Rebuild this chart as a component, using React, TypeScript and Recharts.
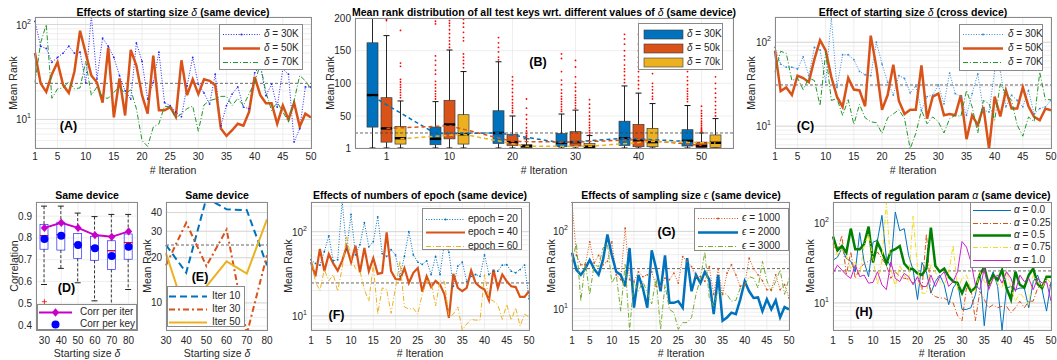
import React from 'react';
import {
  ComposedChart,
  LineChart,
  Line,
  Bar,
  Scatter,
  XAxis,
  YAxis,
  CartesianGrid,
  ReferenceLine,
} from 'recharts';

const FONT = '"Liberation Sans", Arial, Helvetica, sans-serif';
const INK = '#262626';
const GRID = '#e6e6e6';
const BLUE = '#0072BD';
const ORANGE = '#D95319';
const YELLOW = '#EDB120';
const DOTTED = '1 1.6';
const DASHDOT = '5 2 1 2';
const DASHED = '7 4';

// shared x values of the iteration panels
const iterations = [
  1, 2, 3, 4, 5, 6, 7, 8, 9, 10,
  11, 12, 13, 14, 15, 16, 17, 18, 19, 20,
  21, 22, 23, 24, 25, 26, 27, 28, 29, 30,
  31, 32, 33, 34, 35, 36, 37, 38, 39, 40,
  41, 42, 43, 44, 45, 46, 47, 48, 49, 50,
];
const iterTicks = [1, 5, 10, 15, 20, 25, 30, 35, 40, 45, 50];
const logTicks = [5, 6, 7, 8, 9, 10, 20, 30, 40, 50, 60, 70, 80, 90, 100, 200];

// (A) starting size, same device
const aDelta30 = [
  108, 59, 56, 40, 45, 50, 59, 50, 51, 24.5,
  125, 26.6, 72, 59, 45, 29, 20, 16.4, 64, 41,
  16.4, 24.5, 51, 15, 14, 12, 10.7, 22.6, 45, 23.5,
  19, 14.5, 30, 8.6, 14, 18.5, 22, 13.5, 13, 31,
  37, 17.8, 23.5, 13.5, 34, 30, 5.8, 8, 22, 22,
];
const aDelta50 = [
  50, 24, 19.5, 30, 40, 23, 19, 32, 86, 50,
  29, 24.5, 15, 57, 10.5, 27, 11, 54, 37, 18,
  11.5, 47, 12.5, 12.5, 13.5, 10.7, 42, 18, 26.5, 18.5,
  26.5, 25.5, 23, 8, 6.7, 7.7, 9, 8.6, 12, 28,
  18, 14.8, 14.8, 9, 14, 10, 15, 8.4, 11.5, 10.5,
];
const aDelta70 = [
  24.5, 64, 100, 16.7, 21, 21.5, 25, 21, 21.5, 41,
  18, 22, 17, 16.7, 19.3, 22, 18.6, 20.5, 13, 6,
  5.2, 8.3, 9, 13.8, 13.5, 10.3, 11.5, 13, 13.8, 7.5,
  14.2, 15.8, 16.4, 17.5, 17.5, 14, 16.7, 14, 18.6, 24.5,
  38, 19.3, 12.4, 15.2, 12, 9.4, 15.8, 29, 25.5, 21,
];
const aBaseline = 24;

// (B) box plots: [low whisker, q1, median, q3, high whisker]
const bIterations = ['1', '10', '20', '30', '40', '50'];
const bBox30 = [
  [1, 33, 82, 162, 210], [1, 6, 15, 33, 72], [1, 8, 24, 58, 133],
  [1, 3, 9, 23, 53], [1, 5, 16, 42, 96], [1, 4, 12, 29, 66],
];
const bBox50 = [
  [1, 10, 31, 78, 173], [1, 15, 37, 74, 151], [1, 5, 10, 22, 50],
  [1, 4, 10, 26, 59], [1, 3, 13, 37, 85], [1, 2, 4, 10, 24],
];
const bBox70 = [
  [1, 7, 16, 34, 73], [1, 7, 22, 52, 118], [1, 1.5, 4, 6, 15],
  [1, 1.5, 3, 8, 20], [1, 3, 10, 31, 69], [1, 2, 9, 21, 46],
];
const bOut30 = [
  [],
  [195, 191, 142, 135, 128, 120, 114, 103, 98, 93, 88, 84, 80, 76],
  [170, 162, 155, 148, 140, 136],
  [145, 138, 118, 105, 98, 90, 85, 80, 76, 72, 68, 64, 60, 57],
  [175, 168, 160, 150, 142, 136, 128, 122, 118, 112, 106, 101],
  [125, 118, 110, 104, 98, 92, 88, 84, 80, 76, 72],
];
const bOut50 = [
  [200, 198, 196],
  [196, 192, 188, 182, 176, 170, 165, 160, 155],
  [110, 104, 98, 92, 86, 80, 75, 70, 66, 62, 58, 55],
  [135, 125, 110, 100, 94, 88, 82, 78, 74, 70, 66, 62],
  [175, 160, 150, 140, 132, 125, 118, 110, 104, 98, 92],
  [65, 58, 54, 50, 46, 42, 39, 36, 33, 31, 29, 27, 26],
];
const bOut70 = [
  [181, 131, 126, 106, 102, 98, 94, 90, 86, 82, 78],
  [198, 192, 186, 178, 170, 165, 145, 140, 135, 130, 124],
  [76, 62, 52, 45, 38, 32, 27, 23, 20, 18],
  [75, 68, 62, 56, 50, 45, 40, 36, 32, 28, 25, 22],
  [115, 100, 95, 90, 85, 80, 76],
  [110, 100, 92, 85, 78, 72, 66, 60, 55, 50],
];
const bTrend30 = [80, 23, 24, 9, 16, 11];
const bTrend50 = [31, 35, 11, 10, 14, 5];
const bTrend70 = [15, 22, 3.5, 3.5, 11, 8.6];
const bBaseline = 24;

// (C) starting size, cross device
const cDelta30 = [
  87, 55, 50.5, 50.5, 48, 67, 40, 87, 81, 33.5,
  198, 29, 71, 71, 62, 45, 41, 40, 100, 55,
  33.5, 23.5, 40, 37, 25, 30, 15.5, 22.5, 23.5, 31,
  18.5, 43, 24.5, 22.5, 13.5, 24.5, 42, 15.5, 14.8, 46,
  46, 17, 23.5, 20.3, 17, 26.7, 14, 16.2, 17, 20.3,
];
const cDelta50 = [
  79.5, 26.2, 29, 23.5, 40, 37.5, 33.5, 63, 106, 80,
  38.5, 22.5, 17, 37.5, 27.3, 26.7, 17.3, 120, 50.5, 15.7,
  23.5, 54, 20, 14, 15.7, 15.7, 53, 12.3, 22.5, 24.5,
  13.5, 14, 13.5, 23.5, 7, 13.5, 10.3, 17, 5.4, 22.5,
  13.1, 26.7, 16.2, 16.2, 29, 17.3, 12.9, 11.8, 16.2, 15.5,
];
const cDelta70 = [
  44, 78, 74, 35, 37.5, 27.3, 37.5, 35, 17.6, 76,
  20.3, 21.3, 13.5, 20.7, 10.5, 18.2, 12.6, 11.3, 11, 8.2,
  12.6, 14, 15.7, 12.3, 5.4, 8.2, 15.5, 10.7, 12.9, 11.3,
  8.3, 12.3, 13.5, 13.1, 26.7, 17, 8.3, 20.3, 18.5, 11.8,
  32, 24.5, 20.3, 10.3, 7.6, 12.9, 11.3, 44, 20.7, 20.7,
];
const cBaseline = 31;

// (D) correlation per starting size: [low whisker, q1, median, q3, high whisker]
const dSizes = ['30', '40', '50', '60', '70', '80'];
const dBox = [
  [0.586, 0.748, 0.81, 0.861, 0.946],
  [0.66, 0.744, 0.815, 0.872, 0.946],
  [0.594, 0.706, 0.771, 0.821, 0.914],
  [0.511, 0.697, 0.759, 0.806, 0.898],
  [0.45, 0.655, 0.741, 0.787, 0.908],
  [0.563, 0.702, 0.779, 0.818, 0.908],
];
const dCorrIter = [0.846, 0.87, 0.846, 0.813, 0.805, 0.83];
const dCorrKey = [0.795, 0.81, 0.767, 0.753, 0.717, 0.759];
const dOutlier = [0.507, null, null, null, null, null];

// (E) mean rank per starting size
const eSizes = [30, 40, 50, 60, 70, 80];
const eIter10 = [24.3, 15.9, 50, 42, 41.5, 17.8];
const eIter30 = [17.8, 34.2, 17.6, 30.8, 6.2, 20.8];
const eIter50 = [21.4, 8.3, 12.9, 18.9, 15.7, 36];
const eBaseline = 24.3;

// (F) epochs
const fEpoch20 = [
  46.5, 42, 40, 58, 89, 45, 46.5, 230, 61, 160,
  53, 70, 128, 66, 76, 150, 55, 51, 61, 53,
  29.5, 51, 100, 53, 43.5, 41, 45, 31, 51, 31,
  76, 57, 22.5, 39, 43.5, 25.7, 29.5, 31, 29.5, 53,
  31, 34, 34, 40, 40.5, 34, 32.5, 35.5, 40, 16,
];
const fEpoch40 = [
  43.5, 29.5, 62.5, 34, 54, 42, 34.5, 45, 66, 43.5,
  68, 33, 64, 34, 48.5, 31.5, 32.5, 98, 34, 27.5,
  27, 37, 24.6, 32.5, 37, 19.4, 29.5, 22, 26, 23.5,
  18, 9.5, 31.5, 21.5, 19.7, 21.5, 34.5, 24.6, 22, 20.6,
  15.3, 35.5, 21.5, 31, 25.7, 22.5, 22, 16.8, 16.8, 19.7,
];
const fEpoch60 = [
  53, 25.3, 20, 35.5, 26, 31, 19.7, 37, 87, 48.5,
  36.5, 34, 20.6, 15, 40.5, 10.5, 21.5, 20.6, 10.7, 21.5,
  44.5, 12.8, 12, 12.3, 10.5, 18, 26, 25.3, 13.1, 26,
  25.7, 9.7, 10.5, 12.8, 6.8, 8, 9.1, 8.9, 8.9, 31,
  16, 15, 13.5, 9.1, 13.7, 8.9, 12.5, 7.6, 10.5, 9.7,
];
const fBaseline = 24.6;

// (G) sampling size
const gEps1000 = [
  240, 49, 37, 37, 73, 39, 49, 37, 41, 73,
  27.4, 23.7, 110, 23.7, 22.6, 30, 26, 27.4, 30, 19.5,
  19.5, 24.8, 23.7, 28.8, 21.5, 47, 41, 35, 26, 26,
  22.6, 35, 15.3, 33, 15.3, 28.8, 37, 27.4, 19.5, 20.4,
  45, 33, 27.4, 23, 17.6, 17.6, 27.4, 17.6, 20.4, 13.8,
];
const gEps2000 = [
  53, 31.8, 27.4, 33, 42.7, 32.7, 27.4, 42.7, 91, 49,
  30, 27.4, 19.5, 61, 10.3, 27.4, 18.5, 10.3, 57, 33,
  16.8, 49, 11.9, 11.9, 12.5, 10.3, 45, 16.8, 27.4, 21.5,
  30, 23.7, 8.5, 27.4, 7, 7.7, 8.9, 8.5, 13.2, 22.6,
  16.8, 13.8, 14, 9.3, 13.2, 9.8, 12.8, 7.7, 10.5, 9.8,
];
const gEps3000 = [
  41, 70, 12.5, 40, 15.3, 37, 35, 61, 70, 21.5,
  27.4, 9.3, 37.5, 5.3, 22.6, 16.8, 22.6, 16, 11.5, 24.8,
  5.4, 20.4, 9.8, 8.9, 5.4, 6.6, 6.6, 7.7, 15.3, 24.8,
  54, 13.8, 10.8, 16.8, 16, 15.3, 12.5, 12.8, 18.5, 20.4,
  26, 24.8, 18.5, 41, 23, 16.8, 22.6, 31.8, 15.3, 24.8,
];
const gBaseline = 33;

// (H) regulation param
const hAlpha00 = [
  34, 37, 48, 35.6, 33, 24.4, 75, 32.4, 21.2, 57,
  60, 123, 35.6, 28, 135, 79, 84, 39, 25.6, 11,
  31.8, 24.4, 13.2, 18.4, 22.2, 16.8, 9.5, 15.3, 18.4, 8.3,
  8.3, 8.7, 12.6, 24.4, 5.2, 17.6, 24.4, 16, 4.6, 15.3,
  16, 14.6, 15.3, 15.3, 8.7, 18.4, 22.2, 14.6, 7.9, 18.4,
];
const hAlpha025 = [
  54, 43, 69, 22.2, 43, 20.2, 26.8, 30.9, 33, 35.6,
  43, 35.6, 29.5, 20.2, 24.4, 21.2, 20.2, 19.8, 17.6, 20.2,
  14.6, 72, 13.2, 12, 11.5, 11.5, 10.5, 10, 6.9, 6,
  15.3, 15.3, 6, 13.9, 11, 8.7, 9.5, 8.7, 9.1, 9.1,
  7.5, 8.7, 10.5, 8.7, 10.5, 10.5, 15.3, 16.8, 17.6, 16,
];
const hAlpha05 = [
  67, 45, 51, 42, 84, 46.5, 46.5, 54, 89, 31.8,
  57, 43, 30.9, 44, 46.5, 51, 30.9, 26.8, 26.3, 23.3,
  22.2, 26.8, 86.6, 28.9, 24.4, 26.8, 21.2, 18.5, 17.6, 13.2,
  17.6, 13.9, 15.5, 22.2, 28.1, 16.8, 22.2, 19.3, 25.6, 15.3,
  11, 24.4, 16.8, 15.5, 22.2, 26.8, 17.1, 15.3, 21.2, 21.2,
];
const hAlpha075 = [
  57, 39, 47, 39, 26.8, 32.4, 22.2, 52, 72, 35.6,
  16.8, 34, 179, 26.8, 16, 29.5, 22.2, 18.4, 120, 26.8,
  13.2, 13.2, 29.5, 24.4, 18.4, 16.8, 23.3, 52, 14.6, 20.2,
  22.2, 14.6, 13.9, 24.4, 18.4, 16.8, 20.2, 17.6, 15.3, 25.6,
  15.3, 10.5, 13.2, 11.5, 9.5, 22.2, 18.4, 15.3, 20.2, 17.6,
];
const hAlpha10 = [
  23.3, 29.5, 25.6, 22.2, 20.2, 29.5, 21.2, 22.2, 17.6, 18,
  24.4, 16.8, 14.6, 32.4, 20.2, 18.4, 23.3, 21.2, 16.8, 21.2,
  16, 16, 22.2, 16, 21.2, 24.4, 16, 18.4, 24.4, 58,
  49.4, 32.4, 16.8, 14.6, 26.8, 14.6, 20.2, 22.2, 17.6, 24.4,
  20.2, 13.9, 22.2, 18.4, 20.2, 14.6, 20.2, 17.6, 18.4, 10.5,
];
const hBaseline = 25;

type Box = { x: number; y: number; w: number; h: number };
type Series = { values: number[]; color: string; width: number; dash?: string; dots?: boolean };

const YW = 34;
const TOP = 7;
const RIGHT = 10;
const XH = 20;

const boxA: Box = { x: 35, y: 17, w: 276, h: 131 };
const boxB: Box = { x: 355, y: 18, w: 378, h: 130 };
const boxC: Box = { x: 775, y: 17, w: 276, h: 131 };
const boxD: Box = { x: 36, y: 202, w: 101, h: 128 };
const boxE: Box = { x: 166, y: 202, w: 101, h: 128 };
const boxF: Box = { x: 311, y: 202, w: 218, h: 128 };
const boxG: Box = { x: 572, y: 202, w: 217, h: 128 };
const boxH: Box = { x: 833, y: 202, w: 218, h: 128 };

const frame = (b: Box): React.CSSProperties => ({ position: 'absolute', left: b.x - YW, top: b.y - TOP });
const cw = (b: Box) => b.w + YW + RIGHT;
const ch = (b: Box) => b.h + TOP + XH;
const margin = { top: TOP, right: RIGHT, bottom: 0, left: 0 };
const tickStyle = { fontSize: 10, fill: INK, fontFamily: FONT };

function logTick(majors: number[]) {
  return (props: any) => {
    const { x, y, payload } = props;
    if (!majors.includes(payload.value)) return <g />;
    const exp = Math.round(Math.log10(payload.value));
    return (
      <text x={x} y={y} dy={4} textAnchor="end" fontSize={10} fill={INK} fontFamily={FONT}>
        10<tspan dy={-5} fontSize={7}>{exp}</tspan>
      </text>
    );
  };
}

function IterPanel({ box, domain, series, baseline, tickSize }: {
  box: Box; domain: [number, number]; series: Series[]; baseline: number; tickSize: number;
}) {
  const rows = iterations.map((it, i) => {
    const row: Record<string, number> = { it };
    series.forEach((s, k) => { row['s' + k] = s.values[i]; });
    return row;
  });
  const ticks = logTicks.filter((t) => t >= domain[0] && t <= domain[1]);
  const majors = [10, 100].filter((t) => t >= domain[0] && t <= domain[1]);
  return (
    <div style={frame(box)}>
      <LineChart width={cw(box)} height={ch(box)} data={rows} margin={margin}>
        <CartesianGrid stroke={GRID} strokeWidth={0.7} />
        <XAxis dataKey="it" type="number" domain={[1, 50]} ticks={iterTicks} interval={0}
          axisLine={false} tickLine={false} tickSize={tickSize} height={XH} tick={tickStyle} />
        <YAxis type="number" scale="log" domain={domain} allowDataOverflow ticks={ticks} interval={0}
          axisLine={false} tickLine={false} tickSize={2} width={YW} tick={logTick(majors)} />
        {majors.map((m) => <ReferenceLine key={m} y={m} stroke="#d2d2d2" strokeWidth={0.8} />)}
        <ReferenceLine y={baseline} stroke="#404040" strokeDasharray="3 2" strokeWidth={0.8} />
        {series.map((s, k) => (
          <Line key={k} type="linear" dataKey={'s' + k} stroke={s.color} strokeWidth={s.width}
            strokeDasharray={s.dash} isAnimationActive={false}
            dot={s.dots ? { r: 0.9, fill: s.color, stroke: 'none' } : false} />
        ))}
      </LineChart>
    </div>
  );
}

const whisker = (stroke: string, dash: string | undefined, cap: 'top' | 'bottom', capW: number) => (p: any) => {
  const cx = p.x + p.width / 2;
  const cy = cap === 'top' ? p.y : p.y + p.height;
  return (
    <g>
      <line x1={cx} x2={cx} y1={p.y} y2={p.y + p.height} stroke={stroke} strokeWidth={0.9} strokeDasharray={dash} />
      <line x1={cx - capW / 2} x2={cx + capW / 2} y1={cy} y2={cy} stroke={stroke} strokeWidth={1} />
    </g>
  );
};
const boxPart = (fill: string, stroke: string, median?: { color: string; width: number }) => (p: any) => (
  <g>
    <rect x={p.x} y={p.y} width={p.width} height={Math.max(p.height, 0)} fill={fill} stroke={stroke} strokeWidth={0.7} />
    {median && (
      <line x1={p.x} x2={p.x + p.width} y1={p.y + p.height} y2={p.y + p.height} stroke={median.color} strokeWidth={median.width} />
    )}
  </g>
);
const hidden = () => <g />;

function PanelB() {
  const boxes = [bBox30, bBox50, bBox70];
  const rows = bIterations.map((it, i) => {
    const row: Record<string, string | number> = { it };
    boxes.forEach((set, g) => {
      const [lo, q1, med, q3, hi] = set[i];
      row[`g${g}_0`] = lo;
      row[`g${g}_1`] = q1 - lo;
      row[`g${g}_2`] = med - q1;
      row[`g${g}_3`] = q3 - med;
      row[`g${g}_4`] = hi - q3;
    });
    return row;
  });
  const off = 14 / (boxB.w / 6);
  const groups = [
    { fill: BLUE, out: bOut30, trend: bTrend30, shift: -off },
    { fill: ORANGE, out: bOut50, trend: bTrend50, shift: 0 },
    { fill: YELLOW, out: bOut70, trend: bTrend70, shift: off },
  ];
  const shapes = (fill: string) => [
    hidden,
    whisker('#111', undefined, 'bottom', 6),
    boxPart(fill, '#3a3a3a'),
    boxPart(fill, '#3a3a3a', { color: '#000', width: 2.4 }),
    whisker('#111', undefined, 'top', 6),
  ];
  return (
    <div style={frame(boxB)}>
      <ComposedChart width={cw(boxB)} height={ch(boxB)} data={rows} margin={margin} barSize={11} barGap={3}>
        <CartesianGrid stroke={GRID} strokeWidth={0.7} />
        <XAxis dataKey="it" type="category" interval={0} axisLine={false} tickLine={false}
          tickSize={3} height={XH} tick={tickStyle} />
        <XAxis xAxisId="n" dataKey="x" type="number" domain={[0, 6]} allowDataOverflow hide />
        <YAxis type="number" domain={[1, 200]} ticks={[1, 50, 100, 150, 200]} allowDataOverflow interval={0}
          axisLine={false} tickLine={false} tickSize={2} width={YW} tick={tickStyle} />
        <ReferenceLine y={bBaseline} stroke="#404040" strokeDasharray="3 2" strokeWidth={0.8} />
        {groups.map((g, gi) =>
          shapes(g.fill).map((shape, k) => (
            <Bar key={`b${gi}${k}`} dataKey={`g${gi}_${k}`} stackId={'g' + gi} shape={shape} isAnimationActive={false} />
          )),
        )}
        {groups.map((g, gi) => (
          <Line key={`t${gi}`} xAxisId="n" type="linear"
            data={g.trend.map((v, i) => ({ x: i + 0.5 + g.shift, y: v }))}
            dataKey="y" stroke={g.fill} strokeWidth={1.5} strokeDasharray="4 3" dot={false} isAnimationActive={false} />
        ))}
        {groups.map((g, gi) => (
          <Scatter key={`o${gi}`} xAxisId="n"
            data={g.out.flatMap((vals, i) => vals.map((v) => ({ x: i + 0.5 + g.shift, y: v })))}
            dataKey="y" fill="#ff0000" isAnimationActive={false}
            shape={(p: any) => <circle cx={p.cx} cy={p.cy} r={0.9} fill="#ff0000" />} />
        ))}
      </ComposedChart>
    </div>
  );
}

function PanelD() {
  const rows = dSizes.map((s, i) => {
    const [lo, q1, med, q3, hi] = dBox[i];
    return {
      s, d0: lo, d1: q1 - lo, d2: med - q1, d3: q3 - med, d4: hi - q3,
      iter: dCorrIter[i], perKey: dCorrKey[i], out: dOutlier[i],
    };
  });
  const diamond = (p: any) => (
    <path key={p.key} d={`M${p.cx},${p.cy - 4.2}L${p.cx + 3.6},${p.cy}L${p.cx},${p.cy + 4.2}L${p.cx - 3.6},${p.cy}Z`} fill="#C800C8" />
  );
  const circle = (p: any) => <circle key={p.key} cx={p.cx} cy={p.cy} r={4} fill="#0000FF" />;
  const plus = (p: any) =>
    p.payload.out == null ? <g key={p.key} /> : (
      <g key={p.key} stroke="#ff0000" strokeWidth={0.8}>
        <line x1={p.cx - 2.5} x2={p.cx + 2.5} y1={p.cy} y2={p.cy} />
        <line x1={p.cx} x2={p.cx} y1={p.cy - 2.5} y2={p.cy + 2.5} />
      </g>
    );
  return (
    <div style={frame(boxD)}>
      <ComposedChart width={cw(boxD)} height={ch(boxD)} data={rows} margin={margin} barSize={8}>
        <CartesianGrid stroke={GRID} strokeWidth={0.7} />
        <XAxis dataKey="s" type="category" interval={0} axisLine={false} tickLine={false}
          tickSize={5} height={XH} tick={tickStyle} />
        <YAxis type="number" domain={[0.377, 0.965]} ticks={[0.4, 0.5, 0.6, 0.7, 0.8, 0.9]} allowDataOverflow
          interval={0} axisLine={false} tickLine={false} tickSize={2} width={YW} tick={tickStyle}
          tickFormatter={(v: number) => v.toFixed(1)} />
        <Bar dataKey="d0" stackId="d" shape={hidden} isAnimationActive={false} />
        <Bar dataKey="d1" stackId="d" shape={whisker('#222', '3 2', 'bottom', 6)} isAnimationActive={false} />
        <Bar dataKey="d2" stackId="d" shape={boxPart('none', '#2a2aff')} isAnimationActive={false} />
        <Bar dataKey="d3" stackId="d" shape={boxPart('none', '#2a2aff', { color: '#ff0000', width: 1 })} isAnimationActive={false} />
        <Bar dataKey="d4" stackId="d" shape={whisker('#222', '3 2', 'top', 6)} isAnimationActive={false} />
        <Line dataKey="out" stroke="none" dot={plus} isAnimationActive={false} />
        <Line dataKey="iter" stroke="#C800C8" strokeWidth={2} dot={diamond} isAnimationActive={false} />
        <Line dataKey="perKey" stroke="none" dot={circle} isAnimationActive={false} />
      </ComposedChart>
    </div>
  );
}

function PanelE() {
  const rows = eSizes.map((s, i) => ({ s, i10: eIter10[i], i30: eIter30[i], i50: eIter50[i] }));
  const eTick = (props: any) => {
    const { x, y, payload } = props;
    if (payload.value < 10) return <g />;
    return <text x={x} y={y} dy={3.5} textAnchor="end" {...tickStyle}>{payload.value}</text>;
  };
  return (
    <div style={frame(boxE)}>
      <LineChart width={cw(boxE)} height={ch(boxE)} data={rows} margin={margin}>
        <CartesianGrid stroke={GRID} strokeWidth={0.7} />
        <XAxis dataKey="s" type="number" domain={[30, 80]} ticks={eSizes} interval={0}
          axisLine={false} tickLine={false} tickSize={5} height={XH} tick={tickStyle} />
        <YAxis type="number" scale="log" domain={[6.6, 47]} ticks={[7, 8, 9, 10, 20, 30, 40]} allowDataOverflow
          interval={0} axisLine={false} tickLine={false} tickSize={2} width={YW} tick={eTick} />
        {[10, 20, 30, 40].map((m) => <ReferenceLine key={m} y={m} stroke="#d2d2d2" strokeWidth={0.8} />)}
        <ReferenceLine y={eBaseline} stroke="#404040" strokeDasharray="3 2" strokeWidth={0.8} />
        <Line dataKey="i10" stroke={BLUE} strokeWidth={2} strokeDasharray={DASHED} dot={false} isAnimationActive={false} />
        <Line dataKey="i30" stroke={ORANGE} strokeWidth={2} strokeDasharray="6 3 2 3" dot={false} isAnimationActive={false} />
        <Line dataKey="i50" stroke={YELLOW} strokeWidth={2} dot={false} isAnimationActive={false} />
      </LineChart>
    </div>
  );
}

type LegItem = { label: React.ReactNode; color: string; width: number; dash?: string; marker?: 'dot' | 'diamond' | 'circle' | 'patch'; noLine?: boolean };

function LegendBox({ box, items, rows, sx0, sx1, tx }: { box: Box; items: LegItem[]; rows: number[]; sx0: number; sx1: number; tx: number }) {
  return (
    <div style={{ position: 'absolute', left: box.x, top: box.y, width: box.w, height: box.h, background: '#fff', border: '1px solid #8a8a8a', boxSizing: 'border-box' }}>
      <svg width={box.w} height={box.h} style={{ position: 'absolute', left: -1, top: -1 }}>
        {items.map((it, i) => {
          const y = Math.round(rows[i] - box.y) + 0.5;
          const x0 = sx0 - box.x;
          const x1 = sx1 - box.x;
          const xm = (x0 + x1) / 2;
          if (it.marker === 'patch') {
            return <rect key={i} x={x0} y={y - 4.5} width={x1 - x0} height={9} fill={it.color} stroke="#3a3a3a" strokeWidth={0.6} />;
          }
          return (
            <g key={i}>
              {!it.noLine && <line x1={x0} x2={x1} y1={y} y2={y} stroke={it.color} strokeWidth={Math.max(it.width, 1.2)} strokeDasharray={it.dash} />}
              {it.marker === 'dot' && <circle cx={xm} cy={y} r={1.1} fill={it.color} />}
              {it.marker === 'circle' && <circle cx={xm} cy={y} r={4} fill={it.color} />}
              {it.marker === 'diamond' && <path d={`M${xm},${y - 4.2}L${xm + 3.6},${y}L${xm},${y + 4.2}L${xm - 3.6},${y}Z`} fill={it.color} />}
            </g>
          );
        })}
      </svg>
      {items.map((it, i) => (
        <div key={i} style={{ position: 'absolute', left: tx - box.x - 1, top: rows[i] - box.y - 1, transform: 'translateY(-50%)', fontSize: 10, lineHeight: 1, color: INK, whiteSpace: 'nowrap' }}>
          {it.label}
        </div>
      ))}
    </div>
  );
}

function Txt({ x, y, children, size = 10.5, bold = false, rotate = false }: { x: number; y: number; children: React.ReactNode; size?: number; bold?: boolean; rotate?: boolean }) {
  return (
    <div style={{
      position: 'absolute', left: x, top: y, fontSize: size, fontWeight: bold ? 'bold' : 'normal', color: bold ? '#000' : INK,
      lineHeight: 1, whiteSpace: 'nowrap', transform: `translate(-50%, -50%)${rotate ? ' rotate(-90deg)' : ''}`,
    }}>
      {children}
    </div>
  );
}

const Border = ({ b }: { b: Box }) => (
  <div style={{ position: 'absolute', left: b.x, top: b.y, width: b.w + 1, height: b.h + 1, border: '1px solid #8a8a8a', boxSizing: 'border-box', pointerEvents: 'none' }} />
);

const G = (s: string) => <i style={{ fontWeight: 'normal' }}>{s}</i>;

export default function App() {
  const A_BLUE = '#2424ff';
  const A_GREEN = '#22962a';
  const C_BLUE = '#3b8ed8';
  return (
    <div style={{ position: 'absolute', left: 0, top: 0, width: 1057, height: 360, background: '#fff', overflow: 'hidden', fontFamily: FONT }}>
      <IterPanel box={boxA} domain={[5, 120]} baseline={aBaseline} tickSize={3} series={[
        { values: aDelta30, color: A_BLUE, width: 1, dash: DOTTED, dots: true },
        { values: aDelta50, color: ORANGE, width: 2.5 },
        { values: aDelta70, color: A_GREEN, width: 1, dash: DASHDOT },
      ]} />
      <PanelB />
      <IterPanel box={boxC} domain={[5.5, 200]} baseline={cBaseline} tickSize={3} series={[
        { values: cDelta30, color: C_BLUE, width: 1, dash: DOTTED, dots: true },
        { values: cDelta50, color: ORANGE, width: 2.5 },
        { values: cDelta70, color: A_GREEN, width: 1, dash: DASHDOT },
      ]} />
      <PanelD />
      <PanelE />
      <IterPanel box={boxF} domain={[6.8, 225]} baseline={fBaseline} tickSize={5} series={[
        { values: fEpoch20, color: BLUE, width: 1, dash: DOTTED, dots: true },
        { values: fEpoch40, color: ORANGE, width: 2.2 },
        { values: fEpoch60, color: YELLOW, width: 1, dash: DASHDOT },
      ]} />
      <IterPanel box={boxG} domain={[5.3, 240]} baseline={gBaseline} tickSize={5} series={[
        { values: gEps1000, color: ORANGE, width: 1, dash: DOTTED, dots: true },
        { values: gEps2000, color: BLUE, width: 2.5 },
        { values: gEps3000, color: '#77AC30', width: 1, dash: DASHDOT },
      ]} />
      <IterPanel box={boxH} domain={[4.6, 180]} baseline={hBaseline} tickSize={5} series={[
        { values: hAlpha00, color: BLUE, width: 1 },
        { values: hAlpha025, color: ORANGE, width: 1, dash: DASHDOT },
        { values: hAlpha05, color: '#008000', width: 2.5 },
        { values: hAlpha075, color: '#F0DC1E', width: 1, dash: DASHDOT },
        { values: hAlpha10, color: '#CC22CC', width: 1 },
      ]} />

      {[boxA, boxB, boxC, boxD, boxE, boxF, boxG, boxH].map((b, i) => <Border key={i} b={b} />)}

      <Txt x={173} y={12} bold>Effects of starting size {G('δ')} (same device)</Txt>
      <Txt x={544} y={12} bold>Mean rank distribution of all test keys wrt. different values of {G('δ')} (same device)</Txt>
      <Txt x={913} y={12} bold>Effect of starting size {G('δ')} (cross device)</Txt>
      <Txt x={87} y={195} bold>Same device</Txt>
      <Txt x={217} y={195} bold>Same device</Txt>
      <Txt x={420} y={195} bold>Effects of numbers of epoch (same device)</Txt>
      <Txt x={681} y={195} bold>Effects of sampling size {G('ϵ')} (same device)</Txt>
      <Txt x={942} y={195} bold>Effects of regulation param {G('α')} (same device)</Txt>

      <Txt x={173} y={170}># Iteration</Txt>
      <Txt x={544} y={170}># Iteration</Txt>
      <Txt x={913} y={170}># Iteration</Txt>
      <Txt x={87} y={353}>Starting size <i>δ</i></Txt>
      <Txt x={217} y={353}>Starting size <i>δ</i></Txt>
      <Txt x={420} y={353}># Iteration</Txt>
      <Txt x={681} y={353}># Iteration</Txt>
      <Txt x={942} y={353}># Iteration</Txt>

      <Txt x={13} y={83} rotate>Mean Rank</Txt>
      <Txt x={330} y={83} rotate>Mean Rank</Txt>
      <Txt x={751} y={83} rotate>Mean Rank</Txt>
      <Txt x={14} y={266} rotate>Correlation</Txt>
      <Txt x={147} y={266} rotate>Mean Rank</Txt>
      <Txt x={288} y={266} rotate>Mean Rank</Txt>
      <Txt x={551} y={266} rotate>Mean Rank</Txt>
      <Txt x={810} y={266} rotate>Mean Rank</Txt>

      <Txt x={68.5} y={126} size={12.5} bold>(A)</Txt>
      <Txt x={538} y={62} size={12.5} bold>(B)</Txt>
      <Txt x={805.5} y={126} size={12.5} bold>(C)</Txt>
      <Txt x={66.5} y={288} size={12.5} bold>(D)</Txt>
      <Txt x={200} y={277} size={12.5} bold>(E)</Txt>
      <Txt x={336.5} y={315} size={12.5} bold>(F)</Txt>
      <Txt x={666.5} y={232} size={12.5} bold>(G)</Txt>
      <Txt x={864} y={312} size={12.5} bold>(H)</Txt>

      <LegendBox box={{ x: 219, y: 24, w: 84, h: 46 }} rows={[33.5, 48, 62]} sx0={223} sx1={260} tx={264} items={[
        { label: <>{G('δ')} = 30K</>, color: A_BLUE, width: 1, dash: DOTTED, marker: 'dot' },
        { label: <>{G('δ')} = 50K</>, color: ORANGE, width: 2.5 },
        { label: <>{G('δ')} = 70K</>, color: A_GREEN, width: 1, dash: DASHDOT },
      ]} />
      <LegendBox box={{ x: 638, y: 23, w: 85, h: 47 }} rows={[33.5, 48, 62]} sx0={644} sx1={683} tx={687} items={[
        { label: <>{G('δ')} = 30K</>, color: BLUE, width: 1, marker: 'patch' },
        { label: <>{G('δ')} = 50k</>, color: ORANGE, width: 1, marker: 'patch' },
        { label: <>{G('δ')} = 70k</>, color: YELLOW, width: 1, marker: 'patch' },
      ]} />
      <LegendBox box={{ x: 959, y: 24, w: 84, h: 47 }} rows={[33.5, 48, 62]} sx0={963} sx1={1003} tx={1008} items={[
        { label: <>{G('δ')} = 30K</>, color: C_BLUE, width: 1, dash: DOTTED, marker: 'dot' },
        { label: <>{G('δ')} = 50K</>, color: ORANGE, width: 2.5 },
        { label: <>{G('δ')} = 70K</>, color: A_GREEN, width: 1, dash: DASHDOT },
      ]} />
      <LegendBox box={{ x: 37, y: 304, w: 100, h: 26 }} rows={[311.5, 324]} sx0={39} sx1={72} tx={80} items={[
        { label: 'Corr per iter', color: '#C800C8', width: 2, marker: 'diamond' },
        { label: 'Corr per key', color: '#0000FF', width: 1, marker: 'circle', noLine: true },
      ]} />
      <LegendBox box={{ x: 167, y: 286, w: 78, h: 41 }} rows={[296, 309, 321.5]} sx0={169} sx1={207} tx={212} items={[
        { label: 'Iter 10', color: BLUE, width: 2, dash: DASHED },
        { label: 'Iter 30', color: ORANGE, width: 2, dash: '6 3 2 3' },
        { label: 'Iter 50', color: YELLOW, width: 2 },
      ]} />
      <LegendBox box={{ x: 422, y: 208, w: 100, h: 42 }} rows={[218.5, 231.5, 245.5]} sx0={426} sx1={465} tx={468} items={[
        { label: 'epoch = 20', color: BLUE, width: 1, dash: DOTTED, marker: 'dot' },
        { label: 'epoch = 40', color: ORANGE, width: 2.2 },
        { label: 'epoch = 60', color: YELLOW, width: 1.2, dash: DASHDOT },
      ]} />
      <LegendBox box={{ x: 694, y: 208, w: 95, h: 43 }} rows={[218, 232, 245.5]} sx0={698} sx1={738} tx={742} items={[
        { label: <>{G('ϵ')} = 1000</>, color: ORANGE, width: 1, dash: DOTTED, marker: 'dot' },
        { label: <>{G('ϵ')} = 2000</>, color: BLUE, width: 2.5 },
        { label: <>{G('ϵ')} = 3000</>, color: '#77AC30', width: 1.2, dash: DASHDOT },
      ]} />
      <LegendBox box={{ x: 970, y: 202, w: 82, h: 66 }} rows={[210, 222.7, 234.5, 247.3, 260]} sx0={973} sx1={1011} tx={1014} items={[
        { label: <>{G('α')} = 0.0</>, color: BLUE, width: 1.2 },
        { label: <>{G('α')} = 0.25</>, color: ORANGE, width: 1.2, dash: DASHDOT },
        { label: <>{G('α')} = 0.5</>, color: '#008000', width: 2.5 },
        { label: <>{G('α')} = 0.75</>, color: '#F0DC1E', width: 1.2, dash: DASHDOT },
        { label: <>{G('α')} = 1.0</>, color: '#CC22CC', width: 1.2 },
      ]} />
    </div>
  );
}
